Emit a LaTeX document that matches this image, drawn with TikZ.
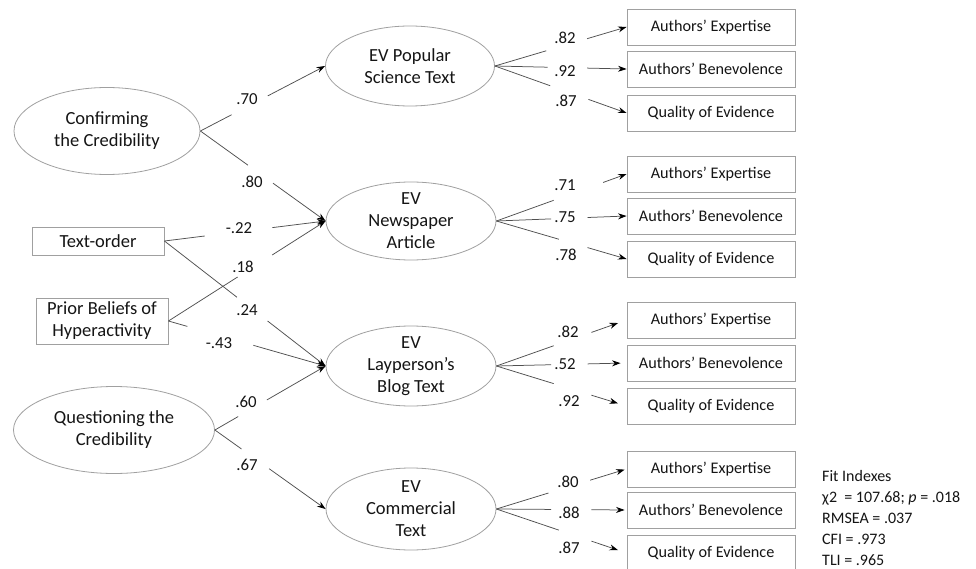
\documentclass[tikz,border=0pt]{standalone}
\usepackage{fontspec}
\setmainfont{Carlito}
\usetikzlibrary{shapes.geometric,arrows.meta,calc}
\definecolor{txt}{HTML}{151515}
\definecolor{edge}{HTML}{A0A0A0}
\definecolor{lnc}{HTML}{505050}
\newcommand{\gapline}[8][]{%
  \draw[ln] (#2) -- ($(#2)!#4!(#3)$);
  \draw[arr,#1] ($(#2)!#5!(#3)$) -- (#3);
  \node[lbl] (#6) at #7 {#8};}
\begin{document}
\begin{tikzpicture}[x=1pt,y=-1pt,
  lat/.style={ellipse, draw=edge, line width=0.8pt, align=center, text=txt,
    font=\fontsize{18.5}{22}\selectfont, inner sep=0pt, inner ysep=-20pt},
  obs/.style={rectangle, draw=edge, line width=0.9pt, minimum width=168pt,
    minimum height=36pt, font=\fontsize{16.2}{19}\selectfont, text=txt, inner sep=0pt},
  lobs/.style={obs, minimum width=132pt, align=center, font=\fontsize{18.5}{22}\selectfont},
  ln/.style={draw=lnc, line width=0.75pt},
  arr/.style={ln, -{Stealth[length=8.5pt,width=6pt,color=black]}},
  lbl/.style={font=\fontsize{16.8}{19}\selectfont, text=txt, inner sep=0pt}
]
\useasboundingbox (0,0) rectangle (976,569);
\fill[white] (0,0) rectangle (976,569);

% exogenous variables
\node[lat, minimum width=186pt, minimum height=87pt] (conf) at (107,131) {Confirming\\the Credibility};
\node[lat, minimum width=201pt, minimum height=87pt] (ques) at (114,430) {Questioning the\\Credibility};
\node[lobs, minimum height=28pt] (tord) at (98,241) {Text-order};
\node[lobs, minimum height=46pt] (prior) at (102,321) {Prior Beliefs of\\Hyperactivity};

% latent EV variables
\node[lat, minimum width=169pt, minimum height=80pt] (ev1) at (410,66) {EV Popular\\Science Text};
\node[lat, minimum width=170pt, minimum height=78pt] (ev2) at (411,221) {EV\\Newspaper\\Article};
\node[lat, minimum width=170pt, minimum height=80pt] (ev3) at (411,366) {EV\\Layperson’s\\Blog Text};
\node[lat, minimum width=170pt, minimum height=82pt] (ev4) at (411,509) {EV\\Commercial\\Text};

% indicators
\node[obs] (a1) at (711,27) {Authors’ Expertise};
\node[obs] (b1) at (711,69) {Authors’ Benevolence};
\node[obs] (q1) at (711,113) {Quality of Evidence};
\node[obs] (a2) at (711,174) {Authors’ Expertise};
\node[obs] (b2) at (711,216) {Authors’ Benevolence};
\node[obs] (q2) at (711,259) {Quality of Evidence};
\node[obs] (a3) at (711,320) {Authors’ Expertise};
\node[obs] (b3) at (711,363) {Authors’ Benevolence};
\node[obs] (q3) at (711,406) {Quality of Evidence};
\node[obs] (a4) at (711,469) {Authors’ Expertise};
\node[obs] (b4) at (711,510) {Authors’ Benevolence};
\node[obs] (q4) at (711,553) {Quality of Evidence};

% structural paths
\gapline{conf.east}{ev1.west}{0.25}{0.54}{l1}{(247,99)}{.70}
\gapline{conf.east}{ev2.west}{0.38}{0.58}{l2}{(252,182)}{.80}
\gapline{tord.east}{ev2.west}{0.25}{0.67}{l3}{(239,228)}{-.22}
\gapline{prior.east}{ev2.west}{0.44}{0.66}{l4}{(243,267)}{.18}
\gapline{tord.east}{ev3.west}{0.45}{0.64}{l5}{(247,310)}{.24}
\gapline{prior.east}{ev3.west}{0.12}{0.54}{l6}{(219,343)}{-.43}
\gapline{ques.east}{ev3.west}{0.21}{0.47}{l7}{(246,402)}{.60}
\gapline{ques.east}{ev4.west}{0.24}{0.49}{l8}{(247,465)}{.67}

% measurement paths
\gapline{ev1.east}{a1.west}{0.39}{0.70}{m1}{(565,38)}{.82}
\gapline{ev1.east}{b1.west}{0.40}{0.70}{m2}{(565,71)}{.92}
\gapline{ev1.east}{q1.west}{0.42}{0.71}{m3}{(566,101)}{.87}
\gapline{ev2.east}{a2.west}{0.44}{0.82}{m4}{(565,185)}{.71}
\gapline{ev2.east}{b2.west}{0.42}{0.70}{m5}{(565,217)}{.75}
\gapline{ev2.east}{q2.west}{0.48}{0.70}{m6}{(566,255)}{.78}
\gapline[shorten >=9pt]{ev3.east}{a3.west}{0.44}{0.73}{m7}{(568,332)}{.82}
\gapline[shorten >=6pt]{ev3.east}{b3.west}{0.42}{0.70}{m8}{(565,364)}{.52}
\gapline[shorten >=9pt]{ev3.east}{q3.west}{0.44}{0.73}{m9}{(569,401)}{.92}
\gapline[shorten >=2pt]{ev4.east}{a4.west}{0.40}{0.72}{m10}{(568,482)}{.80}
\gapline[shorten >=2pt]{ev4.east}{b4.west}{0.42}{0.73}{m11}{(569,513)}{.88}
\gapline[shorten >=9pt]{ev4.east}{q4.west}{0.48}{0.73}{m12}{(569,548)}{.87}

% fit indexes
\node[anchor=north west, align=left, text=txt, inner sep=0pt,
  font=\fontsize{16}{21}\selectfont] (fit) at (822,470)
  {Fit Indexes\\χ2\ \ = 107.68; \textit{p} = .018\\RMSEA = .037\\CFI = .973\\TLI = .965};
\end{tikzpicture}
\end{document}
